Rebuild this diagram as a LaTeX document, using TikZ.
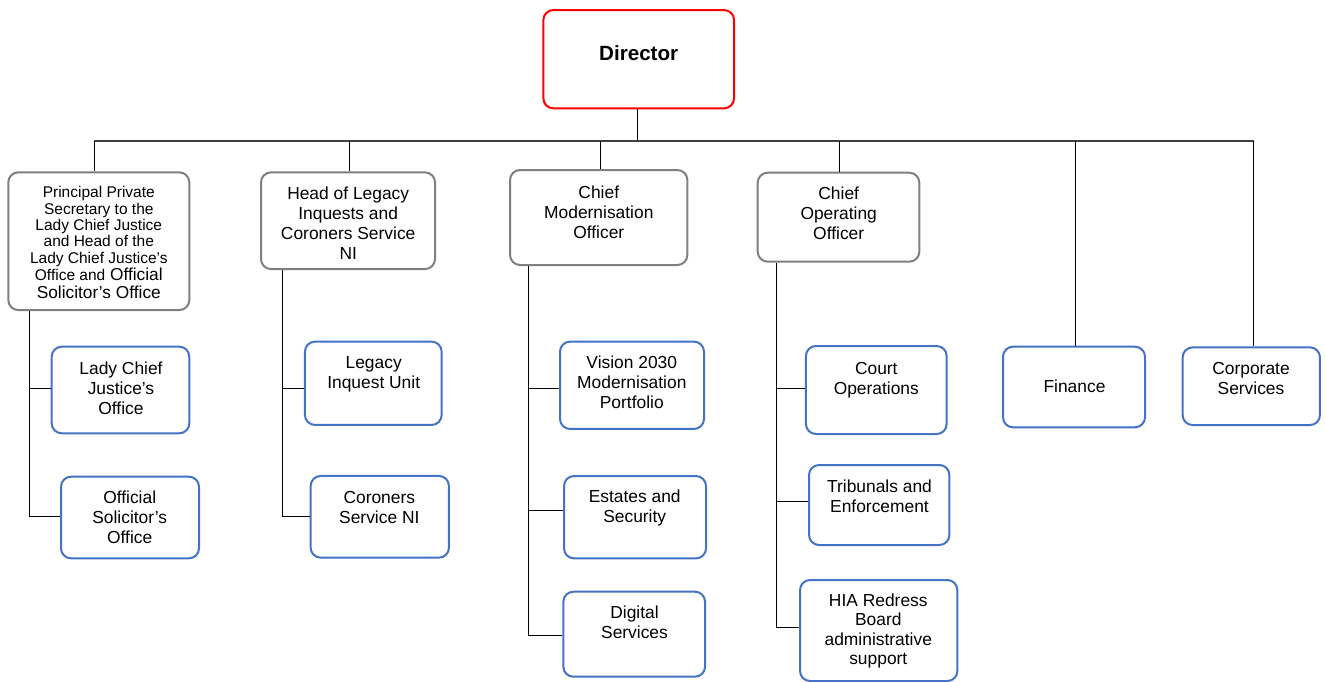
\documentclass[tikz,border=0pt]{standalone}
\usepackage{fontspec}
\setmainfont{Liberation Sans}
\usetikzlibrary{calc}
\definecolor{boxblue}{HTML}{4472C4}
\definecolor{boxgray}{HTML}{7F7F7F}
\definecolor{linegray}{HTML}{404040}
\tikzset{
  basebox/.style={draw, line width=2pt, rounded corners=10pt, inner sep=0pt, fill=white},
  redbox/.style={basebox, draw=red},
  graybox/.style={basebox, draw=boxgray},
  bluebox/.style={basebox, draw=boxblue},
  txt/.style={inner sep=0pt, align=center, font=\fontsize{17.4}{20}\selectfont},
  smalltxt/.style={inner sep=0pt, align=center, font=\fontsize{15.5}{16.4}\selectfont},
  conn/.style={draw=black, line width=1pt},
  busline/.style={draw=linegray, line width=1.5pt},
}
\begin{document}
\begin{tikzpicture}[x=1pt,y=-1pt]
\useasboundingbox (0,0) rectangle (1325,682);
% boxes
\node[redbox, minimum width=190.7, minimum height=98.3] (dir) at (638.7,59.2) {};
\node[graybox, minimum width=181, minimum height=137.7] (b1) at (98.8,241.2) {};
\node[graybox, minimum width=174, minimum height=96.7] (b2) at (348,220.7) {};
\node[graybox, minimum width=177.3, minimum height=95] (b3) at (598.7,217.5) {};
\node[graybox, minimum width=161.6, minimum height=89] (b4) at (838.5,217.2) {};
\node[bluebox, minimum width=137.6, minimum height=86.6] (lcj) at (120.5,390) {};
\node[bluebox, minimum width=138, minimum height=81.6] (oso) at (130,517.5) {};
\node[bluebox, minimum width=136.7, minimum height=83.3] (liu) at (373.3,383.3) {};
\node[bluebox, minimum width=138.3, minimum height=81.7] (csni) at (379.8,516.8) {};
\node[bluebox, minimum width=144, minimum height=87.3] (vis) at (632,385.3) {};
\node[bluebox, minimum width=142, minimum height=82.3] (est) at (635,517.2) {};
\node[bluebox, minimum width=141.7, minimum height=85] (dig) at (634.2,634.2) {};
\node[bluebox, minimum width=140.7, minimum height=88] (court) at (876.3,390) {};
\node[bluebox, minimum width=140.3, minimum height=80] (trib) at (879.2,505) {};
\node[bluebox, minimum width=157.3, minimum height=101] (hia) at (878.7,630.5) {};
\node[bluebox, minimum width=142, minimum height=80.6] (fin) at (1074,387) {};
\node[bluebox, minimum width=137.3, minimum height=77.7] (corp) at (1251.3,386.2) {};
% texts
\node[inner sep=0pt, font=\fontsize{20.6}{24}\selectfont\bfseries] (tdir) at (638.7,53) {Director};
\node[smalltxt] (t1a) at (98.8,226.5) {Principal Private\\Secretary to the\\Lady Chief Justice\\and Head of the\\Lady Chief Justice’s};
\node[txt, font=\fontsize{17.3}{17.4}\selectfont] (t1b) at (98.8,283.5) {{\fontsize{15.5}{16}\selectfont Office and} Official\\Solicitor’s Office};
\node[txt] (t2) at (348.2,223.2) {Head of Legacy\\Inquests and\\Coroners Service\\NI};
\node[txt] (t3) at (598.8,212.3) {Chief\\Modernisation\\Officer};
\node[txt] (t4) at (838.7,213.3) {Chief\\Operating\\Officer};
\node[txt] (tlcj) at (121,388.3) {Lady Chief\\Justice’s\\Office};
\node[txt] (toso) at (129.7,517.2) {Official\\Solicitor’s\\Office};
\node[txt] (tliu) at (373.7,374.3) {Legacy\\Inquest Unit};
\node[txt] (tcsni) at (379.3,507.3) {Coroners\\Service NI};
\node[txt] (tvis) at (631.8,382.3) {Vision 2030\\Modernisation\\Portfolio};
\node[txt] (test) at (634.7,508.4) {Estates and\\Security};
\node[txt] (tdig) at (634.5,622.3) {Digital\\Services};
\node[txt] (tcourt) at (876.3,380.3) {Court\\Operations};
\node[txt] (ttrib) at (879.5,496) {Tribunals and\\Enforcement};
\node[txt, font=\fontsize{17.4}{19.3}\selectfont] (thia) at (878.3,631) {HIA Redress\\Board\\administrative\\support};
\node[txt] (tfin) at (1074.5,386.7) {Finance};
\node[txt] (tcorp) at (1251,378.3) {Corporate\\Services};
% helper coordinates
\coordinate (bus) at (0,141);
\coordinate (x0) at (637.3,0);
\coordinate (x1) at (94.3,0);
\coordinate (x2) at (349,0);
\coordinate (x3) at (600,0);
\coordinate (x4) at (839.3,0);
\coordinate (x5) at (1075.3,0);
\coordinate (x6) at (1253.7,0);
\coordinate (k1) at (29,0);
\coordinate (k2) at (282,0);
\coordinate (k3) at (528.3,0);
\coordinate (k4) at (776.3,0);
% bus and drops
\draw[conn] (x0 |- dir.south) -- (x0 |- bus);
\draw[busline] (x1 |- bus) -- (x6 |- bus);
\draw[conn] (x1 |- bus) -- (x1 |- b1.north);
\draw[conn] (x2 |- bus) -- (x2 |- b2.north);
\draw[conn] (x3 |- bus) -- (x3 |- b3.north);
\draw[conn] (x4 |- bus) -- (x4 |- b4.north);
\draw[conn] (x5 |- bus) -- (x5 |- fin.north);
\draw[conn] (x6 |- bus) -- (x6 |- corp.north);
% column 1
\draw[conn] (k1 |- b1.south) -- (k1 |- 0,516.7) -- (oso.west |- 0,516.7);
\draw[conn] (k1 |- 0,388.3) -- (lcj.west |- 0,388.3);
% column 2
\draw[conn] (k2 |- b2.south) -- (k2 |- 0,516.7) -- (csni.west |- 0,516.7);
\draw[conn] (k2 |- 0,388.7) -- (liu.west |- 0,388.7);
% column 3
\draw[conn] (k3 |- b3.south) -- (k3 |- 0,635.7) -- (dig.west |- 0,635.7);
\draw[conn] (k3 |- 0,388.3) -- (vis.west |- 0,388.3);
\draw[conn] (k3 |- 0,510) -- (est.west |- 0,510);
% column 4
\draw[conn] (k4 |- b4.south) -- (k4 |- 0,627.3) -- (hia.west |- 0,627.3);
\draw[conn] (k4 |- 0,388.3) -- (court.west |- 0,388.3);
\draw[conn] (k4 |- 0,501) -- (trib.west |- 0,501);
\end{tikzpicture}
\end{document}
